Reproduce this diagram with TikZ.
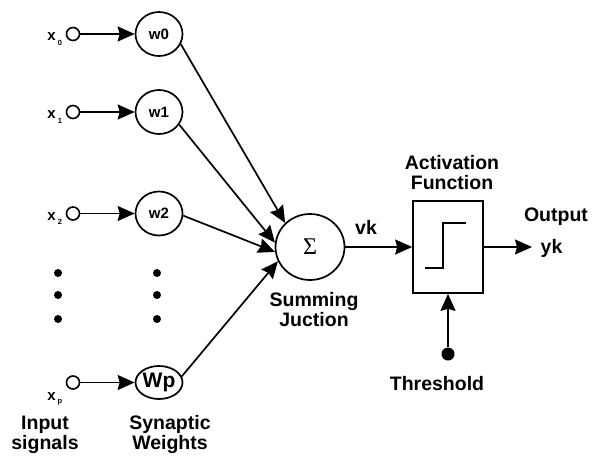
\documentclass[tikz,border=0pt]{standalone}
\usepackage{fontspec}
\setmainfont{Liberation Sans}
\newfontfamily\serifgr{Liberation Serif}
\usetikzlibrary{arrows.meta,shapes.geometric}
\begin{document}
\begin{tikzpicture}[x=1pt,y=-1pt,
  lbl/.style={font=\fontsize{19.5}{20}\selectfont\bfseries, inner sep=0pt, anchor=base},
  xlbl/.style={font=\fontsize{15}{15}\selectfont\bfseries, inner sep=0pt, anchor=base},
  sublbl/.style={font=\fontsize{7.5}{7.5}\selectfont\bfseries, inner sep=0pt, anchor=base},
  wnode/.style={draw, ellipse, line width=1.7pt, minimum width=47pt, minimum height=44pt, inner sep=0pt, font=\fontsize{15}{15}\selectfont\bfseries},
  inp/.style={draw, circle, line width=1.6pt, minimum size=13pt, inner sep=0pt},
  conn/.style={line width=1.7pt, -{Stealth[length=17pt,width=15pt,inset=2pt]}},
  edot/.style={circle, fill, inner sep=0pt, minimum size=8pt}
]
\useasboundingbox (0,0) rectangle (593,455);

% inputs
\node[inp] (x0) at (73,34) {};
\node[inp] (x1) at (73,112) {};
\node[inp] (x2) at (73,213.5) {};
\node[inp] (xp) at (73,382.5) {};

\node[xlbl] (lx0) at (51.5,40.5) {x};
\node[sublbl] (sx0) at (60,45) {0};
\node[xlbl] (lx1) at (51.5,118.5) {x};
\node[sublbl] (sx1) at (60,123) {1};
\node[xlbl] (lx2) at (51.5,220) {x};
\node[sublbl] (sx2) at (60,224.5) {2};
\node[xlbl] (lxp) at (51.5,400) {x};
\node[sublbl] (sxp) at (60,403) {p};

% weights
\node[wnode] (w0) at (159,34) {w0};
\node[wnode] (w1) at (159,112) {w1};
\node[wnode] (w2) at (159,213.5) {w2};
\node[wnode, minimum height=33pt, font=\fontsize{21}{21}\selectfont\bfseries] (wp) at (159,382.5) {Wp};

\draw[conn] (x0) -- (w0);
\draw[conn] (x1) -- (w1);
\draw[conn] (x2) -- (w2);
\draw[conn] (xp) -- (wp);

% dots
\foreach \yy [count=\i] in {273,295,319} {
  \node[edot] (da\i) at (58,\yy) {};
  \node[edot] (db\i) at (157,\yy) {};
}

% summing junction
\node[draw, ellipse, line width=1.7pt, minimum width=69pt, minimum height=66pt, inner sep=0pt,
      font=\fontsize{24}{24}\selectfont\serifgr] (s) at (310,247) {Σ};

\draw[conn] (w0.-25) -- (s.136);
\draw[conn] (w1.-32) -- (s.173);
\draw[conn] (w2.-5) -- (s.188);
\draw[conn] (wp.15) -- (s.204);

% activation box
\node[draw, line width=1.7pt, minimum width=70pt, minimum height=92pt, inner sep=0pt] (act) at (448,247) {};
\draw[line width=1.6pt] (425,268) -- (443,268) -- (443,223) -- (466,223);

\draw[conn] (s) -- (act);
\coordinate (out) at (532,247);
\draw[conn] (act) -- (out);

\node[edot, minimum size=13pt] (th) at (448,354) {};
\draw[conn] (th) -- (act);

% labels
\node[lbl] (t1) at (45,429) {Input};
\node[lbl] (t2) at (45,449) {signals};
\node[lbl] (t3) at (170,429) {Synaptic};
\node[lbl] (t4) at (170,449) {Weights};
\node[lbl] (t5) at (314,306) {Summing};
\node[lbl] (t6) at (314,326) {Juction};
\node[lbl] (t7) at (452,169) {Activation};
\node[lbl] (t8) at (452,189) {Function};
\node[lbl] (t9) at (556,221.5) {Output};
\node[lbl] (t10) at (551.5,253) {yk};
\node[lbl] (t11) at (366,234) {vk};
\node[lbl] (t12) at (437,390.5) {Threshold};
\end{tikzpicture}
\end{document}
